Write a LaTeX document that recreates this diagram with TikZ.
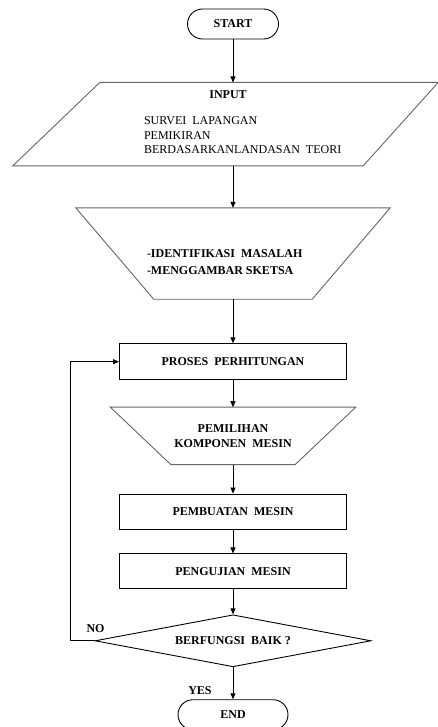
\documentclass[tikz,border=0pt,12pt]{standalone}
\usepackage{fontspec}
\setmainfont{Liberation Serif}
\usetikzlibrary{arrows.meta,positioning,calc,shapes.geometric}
\tikzset{
  term/.style={rectangle, rounded corners=15pt, draw=black, line width=0.9pt,
               minimum width=#1, minimum height=30pt, font=\bfseries},
  frame/.style={rectangle, inner sep=0pt, minimum width=#1},
  proc/.style={rectangle, draw=black, line width=0.9pt, minimum width=227pt,
               minimum height=35pt, font=\bfseries},
  cond/.style={diamond, aspect=5.3, draw=black, line width=0.9pt, minimum width=276pt,
               minimum height=52pt, inner sep=0pt, font=\bfseries},
  outline/.style={draw=black!60, line width=0.9pt},
  arr/.style={-{Triangle[length=6pt,width=5pt]}, line width=0.8pt, draw=black},
}
\begin{document}
\begin{tikzpicture}[x=1pt, y=-1pt, node distance=43pt]
  \useasboundingbox (0,0) rectangle (438,727);
  \node[term=91pt] (start) at (233,24) {START};
  % input
  \node[frame=338pt, minimum height=83pt, below=43pt of start] (inp) {};
  \draw[outline] ($(inp.north west)+(36,0)$) -- ($(inp.north east)+(36,0)$)
    -- ($(inp.south east)+(-39,0)$) -- ($(inp.south west)+(-51,0)$) -- cycle;
  \node[font=\bfseries] (inphead) at ($(inp.north)+(-5,12)$) {INPUT};
  \node[anchor=north west, inner sep=0pt, align=left] (inptext) at ($(inp.north west)+(80,34)$)
    {SURVEI\ \ LAPANGAN\\PEMIKIRAN\\BERDASARKANLANDASAN\ \ TEORI};
  % identifikasi
  \node[frame=314pt, minimum height=91pt, below=42pt of inp] (ident) {};
  \draw[outline] (ident.north west) -- (ident.north east)
    -- ($(ident.south east)+(-78,0)$) -- ($(ident.south west)+(78,0)$) -- cycle;
  \node[anchor=west, inner sep=0pt, align=left, font=\bfseries] (identtext) at ($(ident.west)+(71,9)$)
    {-IDENTIFIKASI\ \ MASALAH\\[2.5pt]-MENGGAMBAR SKETSA};
  \node[proc, minimum height=36pt, below=44pt of ident] (proses) {PROSES\ \ PERHITUNGAN};
  % pemilihan
  \node[frame=245pt, minimum height=57pt, align=center, font=\bfseries, below=27pt of proses] (pilih)
    {PEMILIHAN\\KOMPONEN\ \ MESIN};
  \draw[outline] (pilih.north west) -- (pilih.north east)
    -- ($(pilih.south east)+(-60.5,0)$) -- ($(pilih.south west)+(60.5,0)$) -- cycle;
  \node[proc, below=29pt of pilih] (buat) {PEMBUATAN\ \ MESIN};
  \node[proc, below=24pt of buat] (uji) {PENGUJIAN\ \ MESIN};
  \node[cond, below=25pt of uji] (cek) {BERFUNGSI\ \ BAIK ?};
  \node[term=110pt, below=32pt of cek] (stop) {END};
  \node[font=\bfseries] (nolbl) at ($(cek.west)+(1,-12)$) {NO};
  \node[font=\bfseries] (yeslbl) at ($(cek.south)+(-33,23)$) {YES};
  % arrows
  \draw[arr] (start) -- (inp);
  \draw[arr] (inp) -- (ident);
  \draw[arr] (ident) -- (proses);
  \draw[arr] (proses) -- (pilih);
  \draw[arr] (pilih) -- (buat);
  \draw[arr] (buat) -- (uji);
  \draw[arr] (uji) -- (cek);
  \draw[arr] (cek) -- (stop);
  \coordinate (ret) at ($(cek.west)+(-24,0)$);
  \draw[arr] (cek.west) -- (ret) |- (proses.west);
\end{tikzpicture}
\end{document}
